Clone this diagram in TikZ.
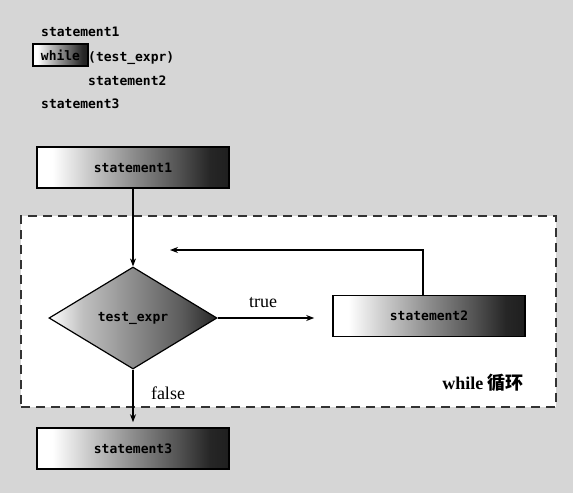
\documentclass[tikz,border=0pt]{standalone}
\usepackage{fontspec}
\setmainfont{Liberation Serif}
\setmonofont{DejaVu Sans Mono}
\newfontfamily\cjk{Noto Sans CJK SC}
\usetikzlibrary{shapes.geometric,arrows.meta}
\pgfdeclarehorizontalshading{grad}{100bp}{color(0bp)=(white); color(25bp)=(white); color(29bp)=(white); color(38bp)=(black!20); color(50bp)=(black!45); color(62bp)=(black!68); color(70bp)=(black!85); color(75bp)=(black!88); color(100bp)=(black!88)}
\pgfdeclarehorizontalshading{dgrad}{100bp}{color(0bp)=(white); color(25bp)=(white); color(35bp)=(black!25); color(50bp)=(black!45); color(65bp)=(black!65); color(75bp)=(black!85); color(100bp)=(black!85)}
\definecolor{bg}{RGB}{214,214,214}
\tikzset{
  codefont/.style={font=\ttfamily\bfseries\fontsize{13}{13}\selectfont},
  code/.style={codefont, inner sep=0pt, anchor=base west},
  wbox/.style={codefont, draw=black, line width=1.6pt, shading=grad, minimum width=55pt, minimum height=22pt, inner sep=0pt},
  stmtbox/.style={codefont, draw=black, line width=1.6pt, shading=grad, minimum width=192pt, minimum height=41pt, inner sep=0pt},
  decbox/.style={codefont, diamond, draw=black, line width=1.2pt, shading=dgrad, aspect=1.647, minimum width=168pt, minimum height=102pt, inner sep=0pt},
  loopbox/.style={draw=black!80, line width=1.6pt, dash pattern=on 9pt off 6pt, fill=white, minimum width=535pt, minimum height=191pt, inner sep=0pt},
  conn/.style={line width=1.1pt, -{Stealth[length=8pt,width=6pt]}},
  lbl/.style={font=\fontsize{18}{18}\selectfont, inner sep=0pt}
}
\begin{document}
\begin{tikzpicture}[x=1pt,y=-1pt]
\fill[bg] (0,0) rectangle (573,493);
\useasboundingbox (0,0) rectangle (573,493);
% code
\node[code] (c1) at (41,36.7) {statement1};
\node[wbox] (cw) at (60.5,55) {while};
\node[code] (c2) at (88,61.7) {(test\_expr)};
\node[code] (c3) at (88,85) {statement2};
\node[code] (c4) at (41,108.3) {statement3};
% loop region
\node[loopbox] (loop) at (288.5,311.5) {};
% flow nodes
\node[stmtbox] (s1) at (133,167.5) {statement1};
\node[decbox] (d) at (133,318) {test\_expr};
\node[stmtbox] (s2) at (429,316) {statement2};
\node[stmtbox] (s3) at (133,448.5) {statement3};
\coordinate (ret) at (170,250);
% connectors
\draw[conn] (s1) -- (d);
\draw[conn, shorten >=18pt] (d.east) -- (d.east -| s2.west);
\draw[conn] ([xshift=-6pt]s2.north) |- (ret);
\draw[conn, shorten >=5pt] (d) -- (s3);
% labels
\node[lbl] (t) at (263,303) {true};
\node[lbl] (f) at (168,393) {false};
\node[lbl] (w) at (483,383) {\bfseries while {\cjk\bfseries 循环}};
\end{tikzpicture}
\end{document}
